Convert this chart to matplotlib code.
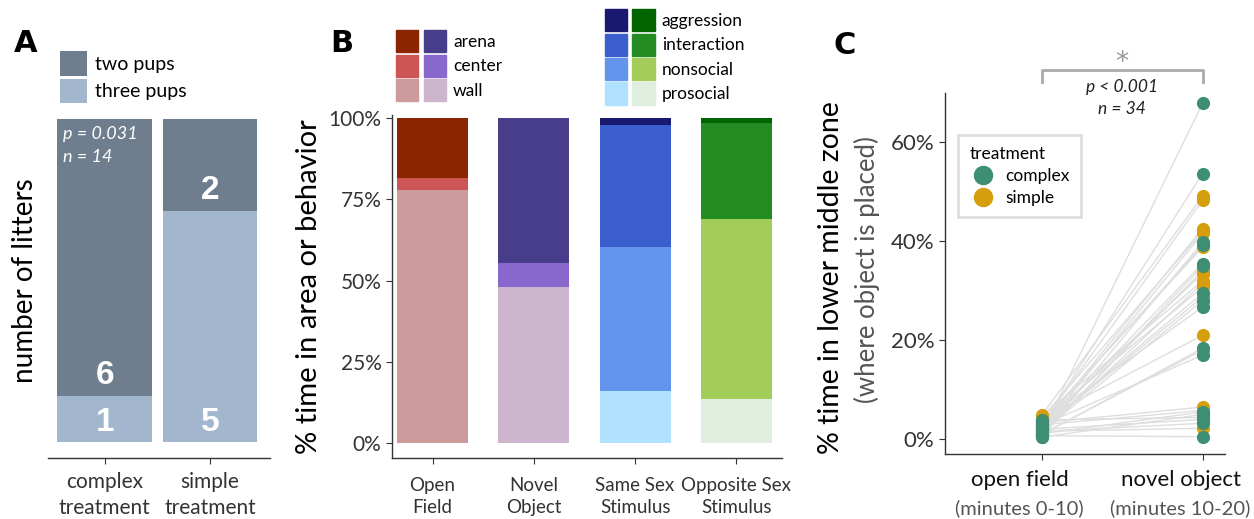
import matplotlib.pyplot as plt
import matplotlib.transforms as mtransforms
import numpy as np
from matplotlib.patches import Patch
from matplotlib.lines import Line2D
from matplotlib.legend_handler import HandlerTuple

plt.rcParams['font.family'] = ['Lato', 'DejaVu Sans']

# ---- Panel A data: litter size by treatment
a_groups = ["complex\ntreatment", "simple\ntreatment"]
a_three_pups = [1, 5]
a_two_pups = [6, 2]

# ---- Panel B data: % time (stacked, bottom -> top)
b_cats = ["Open\nField", "Novel\nObject", "Same Sex\nStimulus", "Opposite Sex\nStimulus"]
b_area_labels = ["arena", "center", "wall"]
b_behav_labels = ["aggression", "interaction", "nonsocial", "prosocial"]
# open field / novel object: wall, center, arena
of_area = [78.0, 3.5, 18.5]
no_area = [48.0, 7.5, 44.5]
# stimuli: prosocial, nonsocial, interaction, aggression
ss_behav = [16.0, 44.3, 37.5, 2.2]
os_behav = [13.5, 55.5, 29.5, 1.5]

# ---- Panel C data: % time in lower middle zone
c_conditions = ["open field", "novel object"]
c_sub = ["(minutes 0-10)", "(minutes 10-20)"]
complex_open = [1.2, 2.5, 0.8, 3.1, 1.9, 0.5, 2.2, 1.5, 3.6, 0.9, 2.8, 1.1, 0.4, 3.9, 2.0, 1.6, 0.7]
complex_novel = [67.9, 53.7, 39.8, 39.2, 35.5, 35.0, 29.5, 28.0, 26.7, 18.4, 17.0, 5.5, 5.0, 4.4, 4.0, 3.2, 0.5]
simple_open = [4.8, 3.0, 2.4, 4.2, 1.8, 3.5, 0.9, 2.7, 4.5, 1.3, 3.8, 2.1, 4.0, 1.0, 3.3, 2.9, 1.6]
simple_novel = [49.1, 48.3, 42.6, 42.0, 41.6, 38.8, 34.1, 33.5, 32.0, 31.5, 30.7, 28.7, 21.0, 18.0, 6.5, 5.8, 2.2]

# colours
c_two = "#6E7E8E"
c_three = "#A2B6CD"
reds = ["#CD9B9B", "#CD5555", "#8B2500"]       # wall, center, arena
purples = ["#CDB5CD", "#8968CD", "#483D8B"]
blues = ["#B0E2FF", "#6495ED", "#3A5FCD", "#191970"]  # prosocial..aggression
greens = ["#E0EEE0", "#A2CD5A", "#228B22", "#006400"]
c_complex = "#3E8E74"
c_simple = "#D69E0C"
spine_col = "#333333"

fig = plt.figure(figsize=(12.54, 5.19), dpi=100)

def style_axes(ax):
    for s in ["top", "right"]:
        ax.spines[s].set_visible(False)
    for s in ["left", "bottom"]:
        ax.spines[s].set_color(spine_col)
        ax.spines[s].set_linewidth(1.0)
    ax.tick_params(colors=spine_col, length=4, width=0.8)

# ================= Panel A
axA = fig.add_axes([0.0383, 0.1175, 0.177, 0.684])
xa = np.arange(len(a_groups))
axA.bar(xa, a_three_pups, width=0.9, color=c_three, label="three pups")
axA.bar(xa, a_two_pups, width=0.9, bottom=a_three_pups, color=c_two, label="two pups")
for xi, t3, t2 in zip(xa, a_three_pups, a_two_pups):
    axA.text(xi, 0.42, str(t3), ha="center", va="center", color="white",
             fontsize=24, fontweight="bold", family="Liberation Sans")
    axA.text(xi, t3 + 0.45, str(t2), ha="center", va="center", color="white",
             fontsize=24, fontweight="bold", family="Liberation Sans")
axA.text(-0.4, 6.85, "p = 0.031\nn = 14", color="white", style="italic",
         fontsize=13, ha="left", va="top", linespacing=1.5)
axA.set_xlim(-0.54, 1.57)
axA.set_ylim(-0.35, 7.35)
style_axes(axA)
axA.spines["left"].set_visible(False)
axA.set_yticks([])
axA.set_xticks(xa)
axA.set_xticklabels(a_groups, fontsize=15, linespacing=1.35)
axA.tick_params(axis="x", length=4, pad=6)
axA.set_ylabel("number of litters", fontsize=20)
axA.yaxis.set_label_coords(-0.045, 0.5)
hA, lA = axA.get_legend_handles_labels()
axA.legend(hA[::-1], lA[::-1], loc="lower left", bbox_to_anchor=(0.054, 1.0),
           frameon=False, fontsize=14, handlelength=1.4, handleheight=1.55,
           handletextpad=0.4, labelspacing=0.15, borderaxespad=0, borderpad=0)

# ================= Panel B
axB = fig.add_axes([0.3126, 0.1175, 0.311, 0.661])
xb = np.arange(1, len(b_cats) + 1)
bw = 0.7
bottom = 0
for val, col in zip(of_area, reds):
    axB.bar(xb[0], val, width=bw, bottom=bottom, color=col)
    bottom += val
bottom = 0
for val, col in zip(no_area, purples):
    axB.bar(xb[1], val, width=bw, bottom=bottom, color=col)
    bottom += val
bottom = 0
for val, col in zip(ss_behav, blues):
    axB.bar(xb[2], val, width=bw, bottom=bottom, color=col)
    bottom += val
bottom = 0
for val, col in zip(os_behav, greens):
    axB.bar(xb[3], val, width=bw, bottom=bottom, color=col)
    bottom += val
axB.set_xlim(0.6, 4.45)
axB.set_ylim(-4.6, 101)
style_axes(axB)
axB.set_yticks([0, 25, 50, 75, 100])
axB.set_yticklabels(["0%", "25%", "50%", "75%", "100%"], fontsize=15)
axB.set_xticks(xb)
axB.set_xticklabels(b_cats, fontsize=13.5, linespacing=1.3)
axB.tick_params(axis="x", pad=10)
axB.set_ylabel("% time in area or behavior", fontsize=21)
axB.yaxis.set_label_coords(-0.18, 0.5)

# legends for B: paired colour swatches
area_handles = [(Patch(color=r), Patch(color=p)) for r, p in zip(reds[::-1], purples[::-1])]
leg1 = axB.legend(area_handles, b_area_labels, loc="lower left", bbox_to_anchor=(0.01, 1.04),
                  handler_map={tuple: HandlerTuple(ndivide=None, pad=0.3)},
                  frameon=False, fontsize=12.5, handlelength=2.9, handleheight=1.6,
                  handletextpad=0.4, labelspacing=0.12, borderaxespad=0, borderpad=0)
axB.add_artist(leg1)
behav_handles = [(Patch(color=b), Patch(color=g)) for b, g in zip(blues[::-1], greens[::-1])]
axB.legend(behav_handles, b_behav_labels, loc="lower left", bbox_to_anchor=(0.545, 1.03),
           handler_map={tuple: HandlerTuple(ndivide=None, pad=0.3)},
           frameon=False, fontsize=12.5, handlelength=2.9, handleheight=1.6,
           handletextpad=0.4, labelspacing=0.12, borderaxespad=0, borderpad=0)

# ================= Panel C
axC = fig.add_axes([0.7536, 0.1252, 0.2233, 0.6956])
xc = np.arange(len(c_conditions))
for o, n in zip(complex_open + simple_open, complex_novel + simple_novel):
    axC.plot(xc, [o, n], color="#DEDEDE", linewidth=1.0, zorder=1)
axC.scatter(np.full(len(simple_open), xc[0]), simple_open, s=90, color=c_simple, zorder=2, linewidths=0)
axC.scatter(np.full(len(simple_novel), xc[1]), simple_novel, s=90, color=c_simple, zorder=2, linewidths=0)
axC.scatter(np.full(len(complex_open), xc[0]), complex_open, s=90, color=c_complex, zorder=3, linewidths=0)
axC.scatter(np.full(len(complex_novel), xc[1]), complex_novel, s=90, color=c_complex, zorder=3, linewidths=0)
axC.set_xlim(-0.6, 1.14)
axC.set_ylim(-3, 70)
style_axes(axC)
axC.set_yticks([0, 20, 40, 60])
axC.set_yticklabels(["0%", "20%", "40%", "60%"], fontsize=16)
axC.set_xticks(xc)
axC.set_xticklabels([])
shift = mtransforms.ScaledTranslation(-0.22, 0, fig.dpi_scale_trans)
for xi, lab, s in zip(xc, c_conditions, c_sub):
    axC.text(xi, -0.072, lab, transform=axC.get_xaxis_transform() + shift,
             ha="center", va="center", fontsize=16, color="#111111")
    axC.text(xi, -0.15, s, transform=axC.get_xaxis_transform() + shift,
             ha="center", va="center", fontsize=14.5, color="#555555")
axC.set_ylabel("% time in lower middle zone", fontsize=20.5)
axC.yaxis.set_label_coords(-0.36, 0.49)
axC.text(-0.278, 0.51, "(where object is placed)", transform=axC.transAxes, rotation=90,
         ha="center", va="center", fontsize=18.5, color="#555555")

# significance bracket
axC.plot([xc[0], xc[0], xc[1], xc[1]], [72.2, 74.6, 74.6, 72.2], color="#AAAAAA",
         linewidth=2, clip_on=False)
axC.text(0.5, 74.6, "*", ha="center", va="baseline", fontsize=19, color="#999999",
         family="DejaVu Sans", clip_on=False)
axC.text(0.5, 72.9, "p < 0.001\nn = 34", ha="center", va="top", fontsize=12.5,
         style="italic", color="#222222", linespacing=1.5)

legC = axC.legend(handles=[Line2D([], [], marker="o", linestyle="", markersize=13, color=c_complex),
                           Line2D([], [], marker="o", linestyle="", markersize=13, color=c_simple)],
                  labels=["complex", "simple"], title="treatment", loc="upper left",
                  bbox_to_anchor=(0.046, 0.885), fontsize=12.5, title_fontsize=12.5,
                  fancybox=False, edgecolor="#D6D6D6", handletextpad=0.5, handlelength=1.6,
                  labelspacing=0.35, borderpad=0.65, borderaxespad=0)
legC.get_frame().set_linewidth(2)
legC._legend_box.align = "left"

# panel letters
fig.text(0.011, 0.9, "A", fontsize=22, fontweight="bold", family="DejaVu Sans", va="baseline")
fig.text(0.263, 0.9, "B", fontsize=22, fontweight="bold", family="DejaVu Sans", va="baseline")
fig.text(0.665, 0.896, "C", fontsize=22, fontweight="bold", family="DejaVu Sans", va="baseline")

fig.savefig("out.png", dpi=100)
